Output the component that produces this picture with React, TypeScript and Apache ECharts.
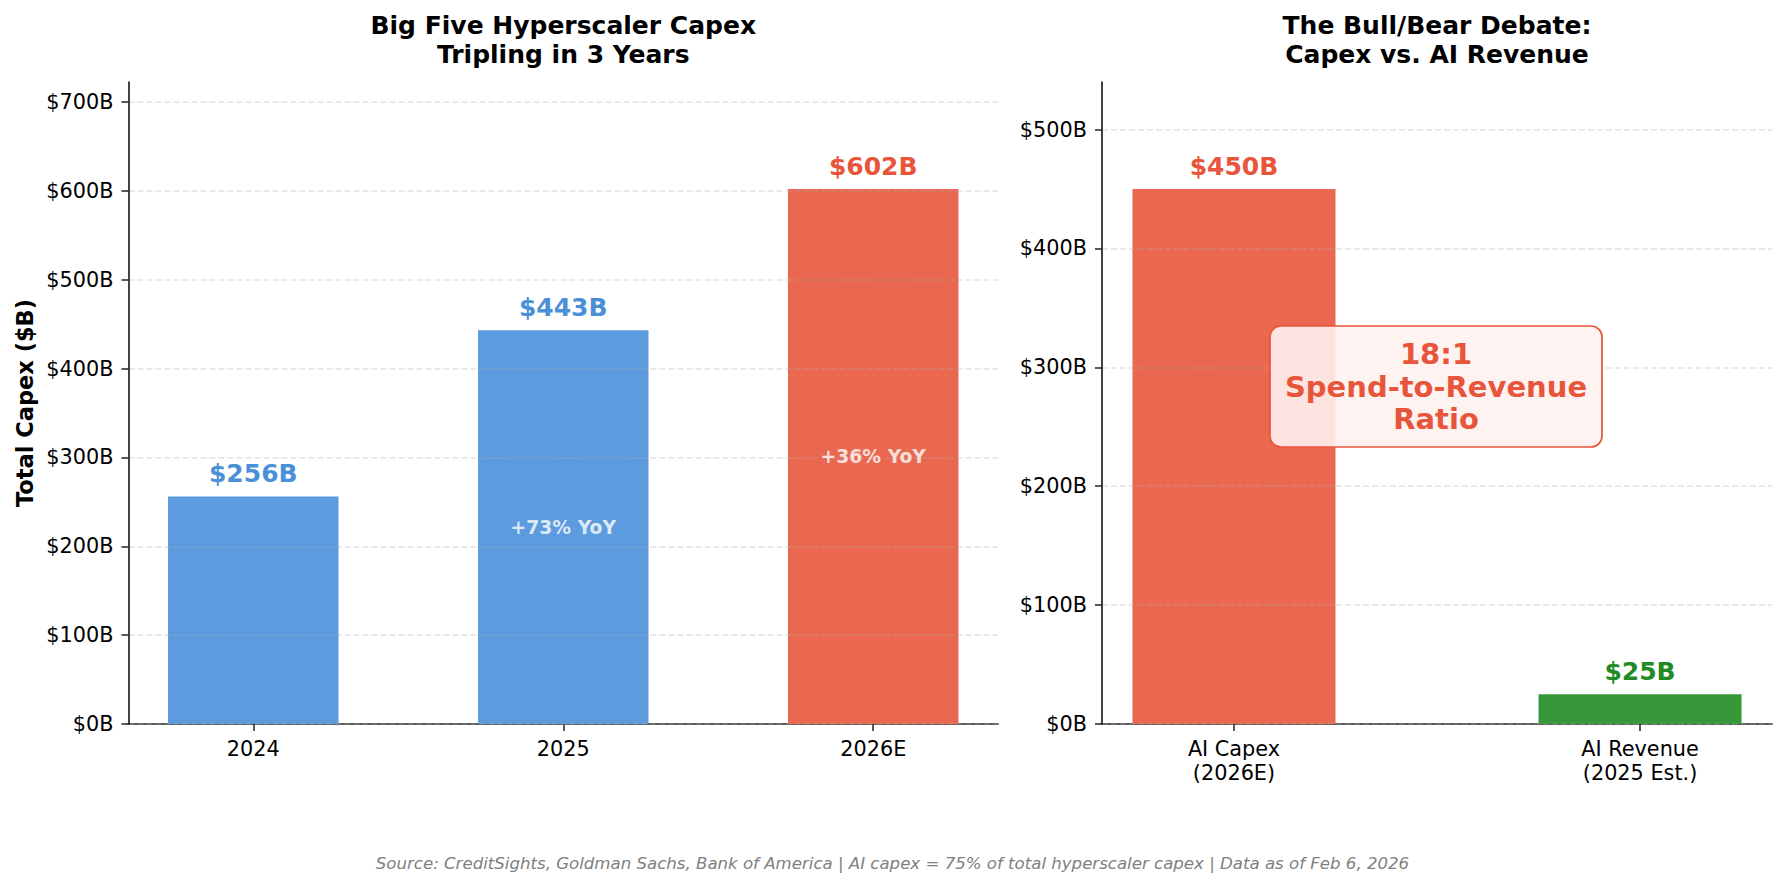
import React, { useEffect, useRef } from "react";
import * as echarts from "echarts";

// ---- data ----
const capexYears = ["2024", "2025", "2026E"];
const capexValues = [256, 443, 602];
const debateCategories = ["AI Capex\n(2026E)", "AI Revenue\n(2025 Est.)"];
const debateValues = [450, 25];
const leftYTicks = [0, 100, 200, 300, 400, 500, 600, 700];
const rightYTicks = [0, 100, 200, 300, 400, 500];
const leftTitle = "Big Five Hyperscaler Capex\nTripling in 3 Years";
const rightTitle = "The Bull/Bear Debate:\nCapex vs. AI Revenue";
const yAxisName = "Total Capex ($B)";
const sourceNote =
  "Source: CreditSights, Goldman Sachs, Bank of America | AI capex = 75% of total hyperscaler capex | Data as of Feb 6, 2026";

// ---- styles ----
const FONT = "DejaVu Sans";
const BLUE = "#4A90D9";
const BLUE_BAR = "#5C9BDD";
const RED = "#E8553A";
const RED_BAR = "#EA6750";
const GREEN = "#228B22";
const GREEN_BAR = "#389738";
const leftBarColors = [BLUE_BAR, BLUE_BAR, RED_BAR];
const leftLabelColors = [BLUE, BLUE, RED];
const rightBarColors = [RED_BAR, GREEN_BAR];
const rightLabelColors = [RED, GREEN];

const W = 1785;
const H = 888;
const G1 = { left: 128.5, top: 82, width: 869.5, height: 642 };
const G2 = { left: 1102, top: 82, width: 670, height: 642 };
const L_MIN = -0.4025, L_MAX = 2.4025;
const R_MIN = -0.325, R_MAX = 1.325;
const leftBarW = (0.55 * G1.width) / (L_MAX - L_MIN);
const rightBarW = (0.5 * G2.width) / (R_MAX - R_MIN);

const axisColor = "#222";

function App() {
  const ref = useRef<HTMLDivElement>(null);
  useEffect(() => {
    if (!ref.current) return;
    const chart = echarts.init(ref.current, undefined, { renderer: "svg" });

    const yoy = capexValues.slice(1).map((v, i) => {
      const pct = Math.round((v / capexValues[i] - 1) * 100);
      return { value: [i + 1, v / 2], text: `+${pct}% YoY` };
    });
    const ratio = Math.round(debateValues[0] / debateValues[1]);

    const xAxisCommon = (min: number, max: number, gridIndex: number, cats: string[]) => ({
      type: "value",
      gridIndex,
      min,
      max,
      splitLine: { show: false },
      axisLine: { onZero: false, lineStyle: { color: axisColor, width: 1.7 } },
      axisTick: {
        customValues: cats.map((_, i) => i),
        length: 7,
        lineStyle: { color: axisColor, width: 1.5 },
      },
      axisLabel: {
        customValues: cats.map((_, i) => i),
        formatter: (v: number) => cats[Math.round(v)] ?? "",
        color: "#000",
        fontFamily: FONT,
        fontSize: 20.8,
        lineHeight: 24,
        margin: 13,
      },
    });

    const yAxisCommon = (max: number, gridIndex: number, ticks: number[]) => ({
      type: "value",
      gridIndex,
      min: 0,
      max,
      z: 5,
      axisLine: { show: true, onZero: false, lineStyle: { color: axisColor, width: 1.7 } },
      axisTick: {
        show: true,
        customValues: ticks,
        length: 7,
        lineStyle: { color: axisColor, width: 1.5 },
      },
      axisLabel: {
        customValues: ticks,
        formatter: (v: number) => `$${v}B`,
        color: "#000",
        fontFamily: FONT,
        fontSize: 20.8,
        margin: 15,
      },
      splitLine: {
        show: true,
        lineStyle: { color: "rgba(176,176,176,0.35)", width: 1.6, type: [6, 3] },
      },
    });

    const option: any = {
      animation: false,
      backgroundColor: "#fff",
      textStyle: { fontFamily: FONT },
      grid: [
        { ...G1, containLabel: false },
        { ...G2, containLabel: false },
      ],
      xAxis: [
        xAxisCommon(L_MIN, L_MAX, 0, capexYears),
        xAxisCommon(R_MIN, R_MAX, 1, debateCategories),
      ],
      yAxis: [
        {
          ...yAxisCommon(Math.max(...capexValues) * 1.2, 0, leftYTicks),
          name: yAxisName,
          nameLocation: "middle",
          nameGap: 92,
          nameTextStyle: {
            fontFamily: FONT,
            fontSize: 22.5,
            fontWeight: "bold",
            color: "#000",
          },
        },
        yAxisCommon(Math.max(...debateValues) * 1.2, 1, rightYTicks),
      ],
      series: [
        {
          type: "bar",
          xAxisIndex: 0,
          yAxisIndex: 0,
          barWidth: leftBarW,
          data: capexValues.map((v, i) => ({
            value: [i, v],
            itemStyle: { color: leftBarColors[i] },
            label: { color: leftLabelColors[i] },
          })),
          label: {
            show: true,
            position: "top",
            distance: 10,
            formatter: (p: any) => `$${p.value[1]}B`,
            fontFamily: FONT,
            fontSize: 25,
            lineHeight: 25,
            fontWeight: "bold",
          },
        },
        {
          type: "scatter",
          xAxisIndex: 0,
          yAxisIndex: 0,
          symbolSize: 0,
          silent: true,
          z: 6,
          data: yoy.map((d) => ({ value: d.value, name: d.text })),
          label: {
            show: true,
            position: "inside",
            formatter: (p: any) => p.name,
            color: "#fff",
            fontFamily: FONT,
            fontSize: 18.75,
            fontWeight: "bold",
          },
        },
        {
          type: "bar",
          xAxisIndex: 1,
          yAxisIndex: 1,
          barWidth: rightBarW,
          data: debateValues.map((v, i) => ({
            value: [i, v],
            itemStyle: { color: rightBarColors[i] },
            label: { color: rightLabelColors[i] },
          })),
          label: {
            show: true,
            position: "top",
            distance: 10,
            formatter: (p: any) => `$${p.value[1]}B`,
            fontFamily: FONT,
            fontSize: 25,
            lineHeight: 25,
            fontWeight: "bold",
          },
        },
      ],
      graphic: [
        {
          type: "text",
          z: 10,
          style: {
            text: leftTitle,
            x: G1.left + G1.width / 2,
            y: 11.5,
            align: "center",
            verticalAlign: "top",
            fontFamily: FONT,
            fontSize: 25,
            fontWeight: "bold",
            lineHeight: 28.5,
            fill: "#000",
          },
        },
        {
          type: "text",
          z: 10,
          style: {
            text: rightTitle,
            x: G2.left + G2.width / 2,
            y: 11.5,
            align: "center",
            verticalAlign: "top",
            fontFamily: FONT,
            fontSize: 25,
            fontWeight: "bold",
            lineHeight: 28.5,
            fill: "#000",
          },
        },
        {
          type: "rect",
          z: 20,
          shape: { x: 1270, y: 326, width: 332, height: 121, r: 11 },
          style: { fill: "rgba(255,242,239,0.9)", stroke: RED, lineWidth: 1.7 },
        },
        {
          type: "text",
          z: 21,
          style: {
            text: `${ratio}:1\nSpend-to-Revenue\nRatio`,
            x: 1436,
            y: 386.5,
            align: "center",
            verticalAlign: "middle",
            fontFamily: FONT,
            fontSize: 29,
            fontWeight: "bold",
            lineHeight: 32.5,
            fill: RED,
          },
        },
        {
          type: "text",
          z: 10,
          style: {
            text: sourceNote,
            x: W / 2,
            y: 863.5,
            align: "center",
            verticalAlign: "middle",
            fontFamily: FONT,
            fontSize: 16.6,
            fontStyle: "italic",
            fill: "#808080",
          },
        },
      ],
    };

    chart.setOption(option);
    return () => chart.dispose();
  }, []);

  return (
    <div
      ref={ref}
      style={{ position: "fixed", left: 0, top: 0, width: W, height: H, background: "#fff" }}
    />
  );
}

export default App;
